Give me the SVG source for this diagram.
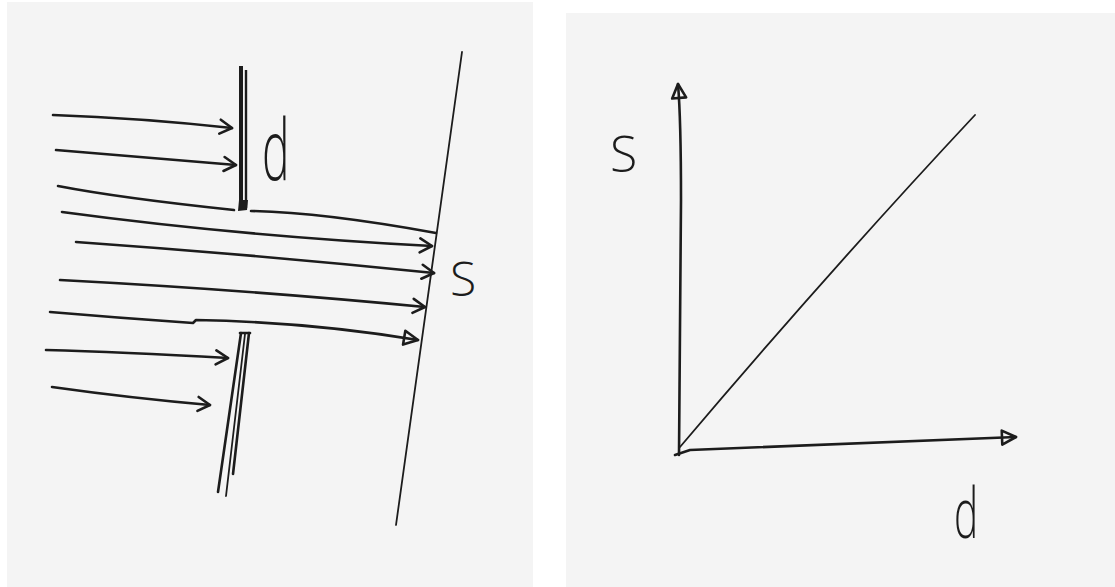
<svg xmlns="http://www.w3.org/2000/svg" width="1115" height="587" viewBox="0 0 1115 587">
<defs>
<style>
.paper{fill:#f4f4f4}
.ink{fill:none;stroke:#1c1c1c;stroke-width:2.6;stroke-linecap:round;stroke-linejoin:round}
.thin{fill:none;stroke:#1c1c1c;stroke-width:1.8;stroke-linecap:round}
.lbl{font-family:"Open Sans","DejaVu Sans",sans-serif;font-weight:300;fill:#1c1c1c}
</style>
<marker id="chev" viewBox="-14 -9 16 18" markerWidth="16" markerHeight="18" refX="0" refY="0" orient="auto" markerUnits="userSpaceOnUse">
<path d="M-12,-7 L0,0 L-12,7" fill="none" stroke="#1c1c1c" stroke-width="2.6" stroke-linecap="round" stroke-linejoin="round"/>
</marker>
<marker id="tri" viewBox="-16 -10 18 20" markerWidth="18" markerHeight="20" refX="0" refY="0" orient="auto" markerUnits="userSpaceOnUse">
<path d="M-14,-7 L0,0 L-14,7 Z" fill="none" stroke="#1c1c1c" stroke-width="2.6" stroke-linejoin="round"/>
</marker>
</defs>
<rect width="1115" height="587" fill="#ffffff"/>
<rect class="paper" x="7" y="2" width="526" height="585"/>
<rect class="paper" x="566" y="13" width="549" height="574"/>

<g id="upper-barrier">
<path d="M241,66 L241,210" fill="none" stroke="#1c1c1c" stroke-width="4"/>
<path d="M246,70 L246,208" fill="none" stroke="#1c1c1c" stroke-width="2.4"/>
<path d="M239,200 L248,200 L247,210 L238,211 Z" fill="#1c1c1c"/>
</g>
<g id="lower-barrier">
<path class="ink" d="M241,333 L218,492" stroke-width="3.2"/>
<path class="ink" d="M249,333 L233,474" stroke-width="3"/>
<path class="thin" d="M245,334 L226,496"/>
<path class="ink" d="M240,333 L250,333"/>
</g>
<g id="screen">
<path class="thin" d="M462,52 L396,525"/>
</g>
<g id="label-d-left">
<text class="lbl" transform="translate(262,180) scale(0.55,1)" font-size="84">d</text>
</g>
<g id="label-s-left">
<text class="lbl" x="450" y="296" font-size="48">S</text>
</g>

<g id="connectors">
<path class="ink" d="M53,115 Q140,118 232,128" marker-end="url(#chev)"/>
<path class="ink" d="M56,150 Q150,158 236,165" marker-end="url(#chev)"/>
<path class="ink" d="M58,186 Q120,198 234,210"/>
<path class="ink" d="M251,211 Q320,212 436,233"/>
<path class="ink" d="M62,212 Q240,236 432,246" marker-end="url(#chev)"/>
<path class="ink" d="M76,242 Q260,255 434,273" marker-end="url(#chev)"/>
<path class="ink" d="M60,280 Q250,290 425,307" marker-end="url(#chev)"/>
<path class="ink" d="M50,312 Q120,318 193,323 L196,320 Q310,322 418,340" marker-end="url(#tri)"/>
<path class="ink" d="M46,350 Q120,352 228,358" marker-end="url(#chev)"/>
<path class="ink" d="M52,387 Q130,398 210,405" marker-end="url(#chev)"/>

<path class="ink" d="M679,455 L681,200 Q681,120 678,84" marker-end="url(#tri)"/>
<path class="ink" d="M675,455 L690,450 L1016,437" marker-end="url(#tri)"/>
<path class="thin" d="M680,447 Q830,270 975,115"/>
</g>

<g id="label-s-right">
<text class="lbl" x="610" y="172" font-size="50">S</text>
</g>
<g id="label-d-right">
<text class="lbl" transform="translate(954,538) scale(0.58,1)" font-size="70">d</text>
</g>
</svg>
